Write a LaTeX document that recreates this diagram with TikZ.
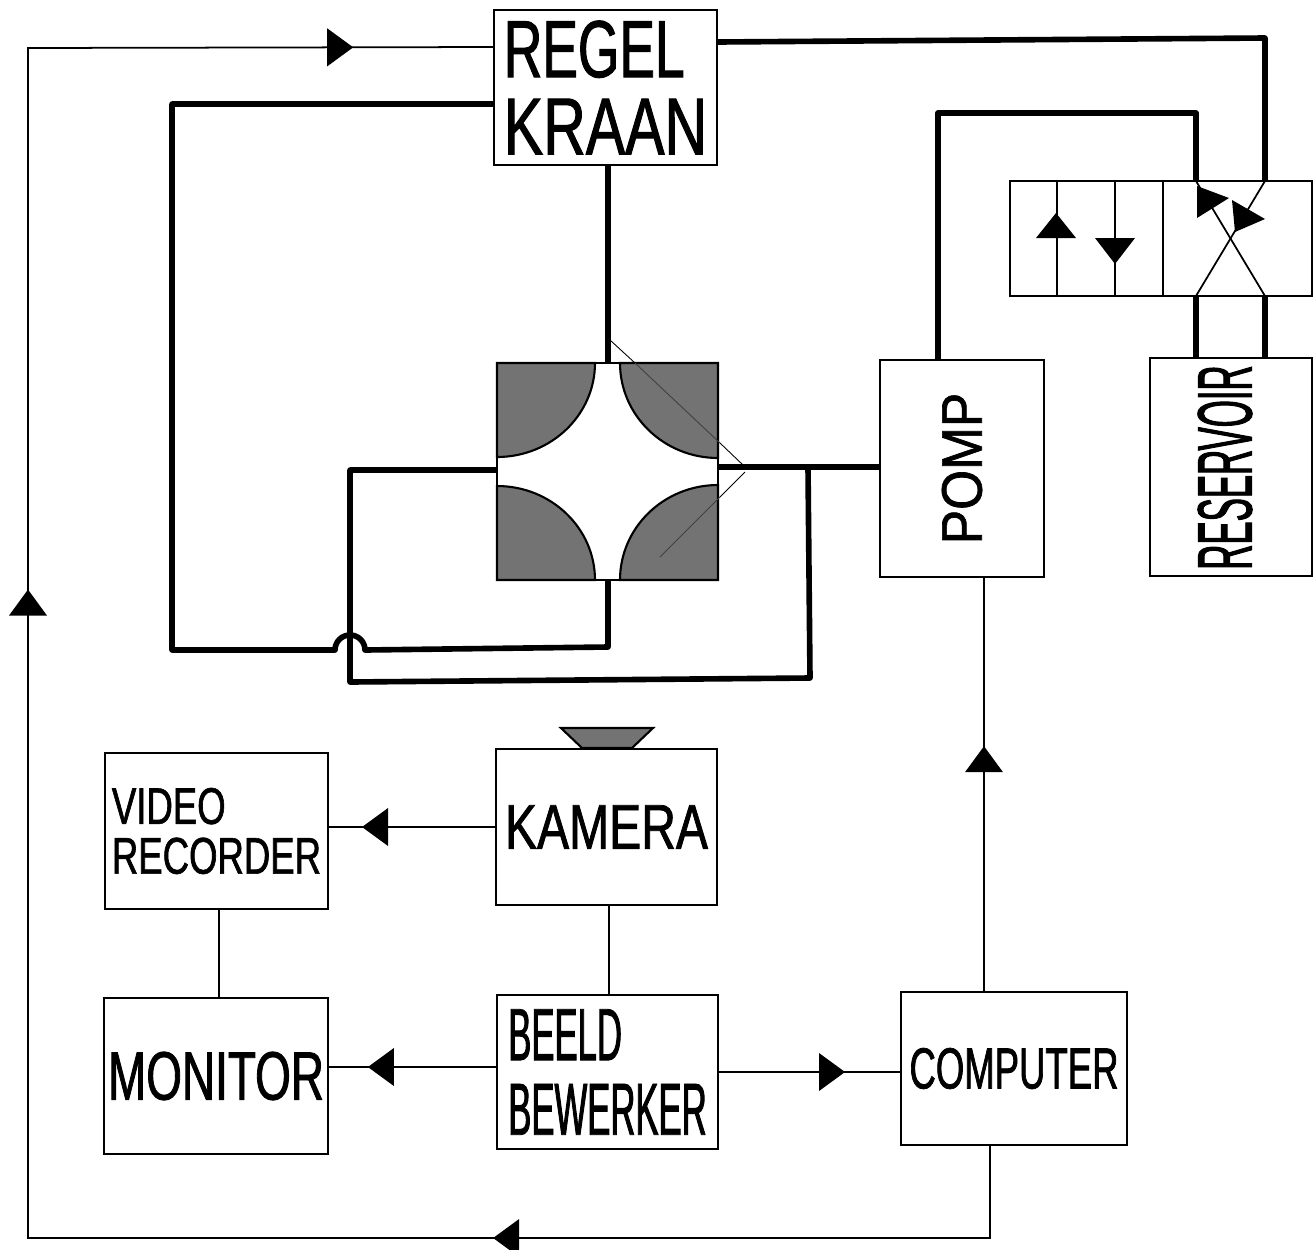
\documentclass[tikz,border=0pt]{standalone}
\usepackage{fontspec}
\setmainfont{Liberation Sans}
\tikzset{
	blok/.style 2 args={rectangle, draw, line width=1.5pt, outer sep=0pt, inner sep=0pt, minimum width=#1*0.02cm, minimum height=#2*0.02cm},
	tekst/.style n args={3}{font=\fontsize{#1}{#2}\selectfont\addfontfeature{FakeStretch=#3,FakeBold=1.2}, align=left},
	dik/.style={line width=3.2pt, line join=round},
	dun/.style={line width=1pt},
	haar/.style={line width=.5pt},
	gearceerd/.style={fill=black!55, draw=black, line width=1.2pt},
	driehoek/.pic={\fill (-13,-19)--(13,0)--(-13,19)--cycle;}
}
\begin{document}
\begin{tikzpicture}[x=0.02cm,y=-0.02cm]
	\useasboundingbox (0,0) rectangle (1316,1249);
	\path
	(605.5,87.5) node[blok={223}{155},tekst={46}{44}{.66}](regel){REGEL\\\addfontfeature{FakeStretch=.73}KRAAN}
	(607.5,471.5) node[blok={221}{217}](kruis){}
	(962,468.5) node[blok={217}{164},tekst={32.5}{34}{.9},rotate=90](pomp){POMP}
	(1231,467) node[blok={218}{162},rotate=90](reservoir){}
	(1225,467.5) node[tekst={44}{46}{.45},rotate=90](reservoirtekst){RESERVOIR}
	(1161,238.5) node[blok={302}{115}](klep){}
	(606.5,827) node[blok={221}{156},tekst={36}{38}{.76}](kamera){KAMERA}
	(216.5,831) node[blok={223}{156},tekst={29.3}{28.3}{.71}](video){VIDEO\\RECORDER}
	(216,1076) node[blok={224}{156},tekst={39}{41}{.67}](monitor){MONITOR}
	(607.5,1072) node[blok={221}{154},tekst={42}{42.5}{.47}](beeld){BEELD\\BEWERKER}
	(1014,1068.5) node[blok={226}{153},tekst={33}{35}{.63}](computer){COMPUTER}
	(1196,181) coordinate(kleptopa)
	(1265,181) coordinate(kleptopb)
	(1196,296) coordinate(klepbota)
	(1265,296) coordinate(klepbotb)
	(172,650) coordinate(hoek)
	(350,682) coordinate(lus)
	(28,1238) coordinate(terug)
	;
	% dikke leidingen
	\draw[dik] (regel.west |- 0,104) -- (172,104) -- (hoek) -- (335,650) arc[start angle=180,end angle=360,radius=15] -- (608,647) -- (kruis.south -| 608,0);
	\draw[dik] (regel.south -| 608,0) -- (kruis.north -| 608,0);
	\draw[dik] (kruis.west |- 0,470) -- (350,470) -- (lus) -- (810,678) -- (808,467);
	\draw[dik] (kruis.east |- 0,467) -- (pomp.north |- 0,467);
	\draw[dik] (regel.east |- 0,42) -- (1265,38) -- (kleptopb);
	\draw[dik] (pomp.east -| 938,0) -- (938,113) -- (1196,113) -- (kleptopa);
	\draw[dik] (klepbota) -- (reservoir.east -| 1196,0);
	\draw[dik] (klepbotb) -- (reservoir.east -| 1265,0);
	% kruis
	\filldraw[gearceerd] (kruis.north west) -- ++(98,0) arc[start angle=0,end angle=90,x radius=98,y radius=94] -- cycle;
	\filldraw[gearceerd] (kruis.north east) -- ++(-98,0) arc[start angle=180,end angle=90,x radius=98,y radius=95] -- cycle;
	\filldraw[gearceerd] (kruis.south west) -- ++(98,0) arc[start angle=0,end angle=-90,x radius=98,y radius=94] -- cycle;
	\filldraw[gearceerd] (kruis.south east) -- ++(-98,0) arc[start angle=180,end angle=270,x radius=98,y radius=95] -- cycle;
	\draw[line width=1.5pt] (kruis.north west) rectangle (kruis.south east);
	\draw[haar] (610,340) -- (635,363);
	\draw[haar,black!75] (635,363) -- (720,443);
	\draw[haar] (720,443) -- (743,465);
	\draw[haar] (745,472) -- (720,497);
	\draw[haar,black!75] (720,497) -- (660,557);
	% klep
	\draw[dun] (1057,181) -- (1057,296);
	\draw[dun] (1115,181) -- (1115,296);
	\draw[dun] (1163,181) -- (1163,296);
	\draw[dun] (klepbota) -- (kleptopb);
	\draw[dun] (klepbotb) -- (kleptopa);
	\fill (1056,213) -- (1076,238) -- (1036,238) -- cycle;
	\fill (1115,264) -- (1135,238) -- (1095,238) -- cycle;
	\fill (1197,186) -- (1229,198) -- (1197,218) -- cycle;
	\fill (1232,200) -- (1265,219) -- (1235,232) -- cycle;
	% kamera lens
	\filldraw[gearceerd] (561,728) -- (653,728) -- (632,748) -- (582,748) -- cycle;
	% signalen
	\draw[dun] (kamera.west |- 0,827) -- pic[pos=.72,rotate=180]{driehoek} (video.east |- 0,827);
	\draw[dun] (kamera.south -| 609,0) -- (beeld.north -| 609,0);
	\draw[dun] (video.south -| 219,0) -- (monitor.north -| 219,0);
	\draw[dun] (beeld.west |- 0,1067) -- pic[pos=.687,rotate=180]{driehoek} (monitor.east |- 0,1067);
	\draw[dun] (beeld.east |- 0,1072) -- pic[pos=.623]{driehoek} (computer.west |- 0,1072);
	\draw[dun] (computer.north -| 984,0) -- pic[pos=.561,rotate=90]{driehoek} (pomp.west -| 984,0);
	\draw[dun] (computer.south -| 990,0) -- (990,1238) -- pic[pos=.503,rotate=180]{driehoek} (terug) -- pic[pos=.534,rotate=90]{driehoek} (28,48) -- pic[pos=.67]{driehoek} (regel.west |- 0,47);
\end{tikzpicture}
\end{document}
